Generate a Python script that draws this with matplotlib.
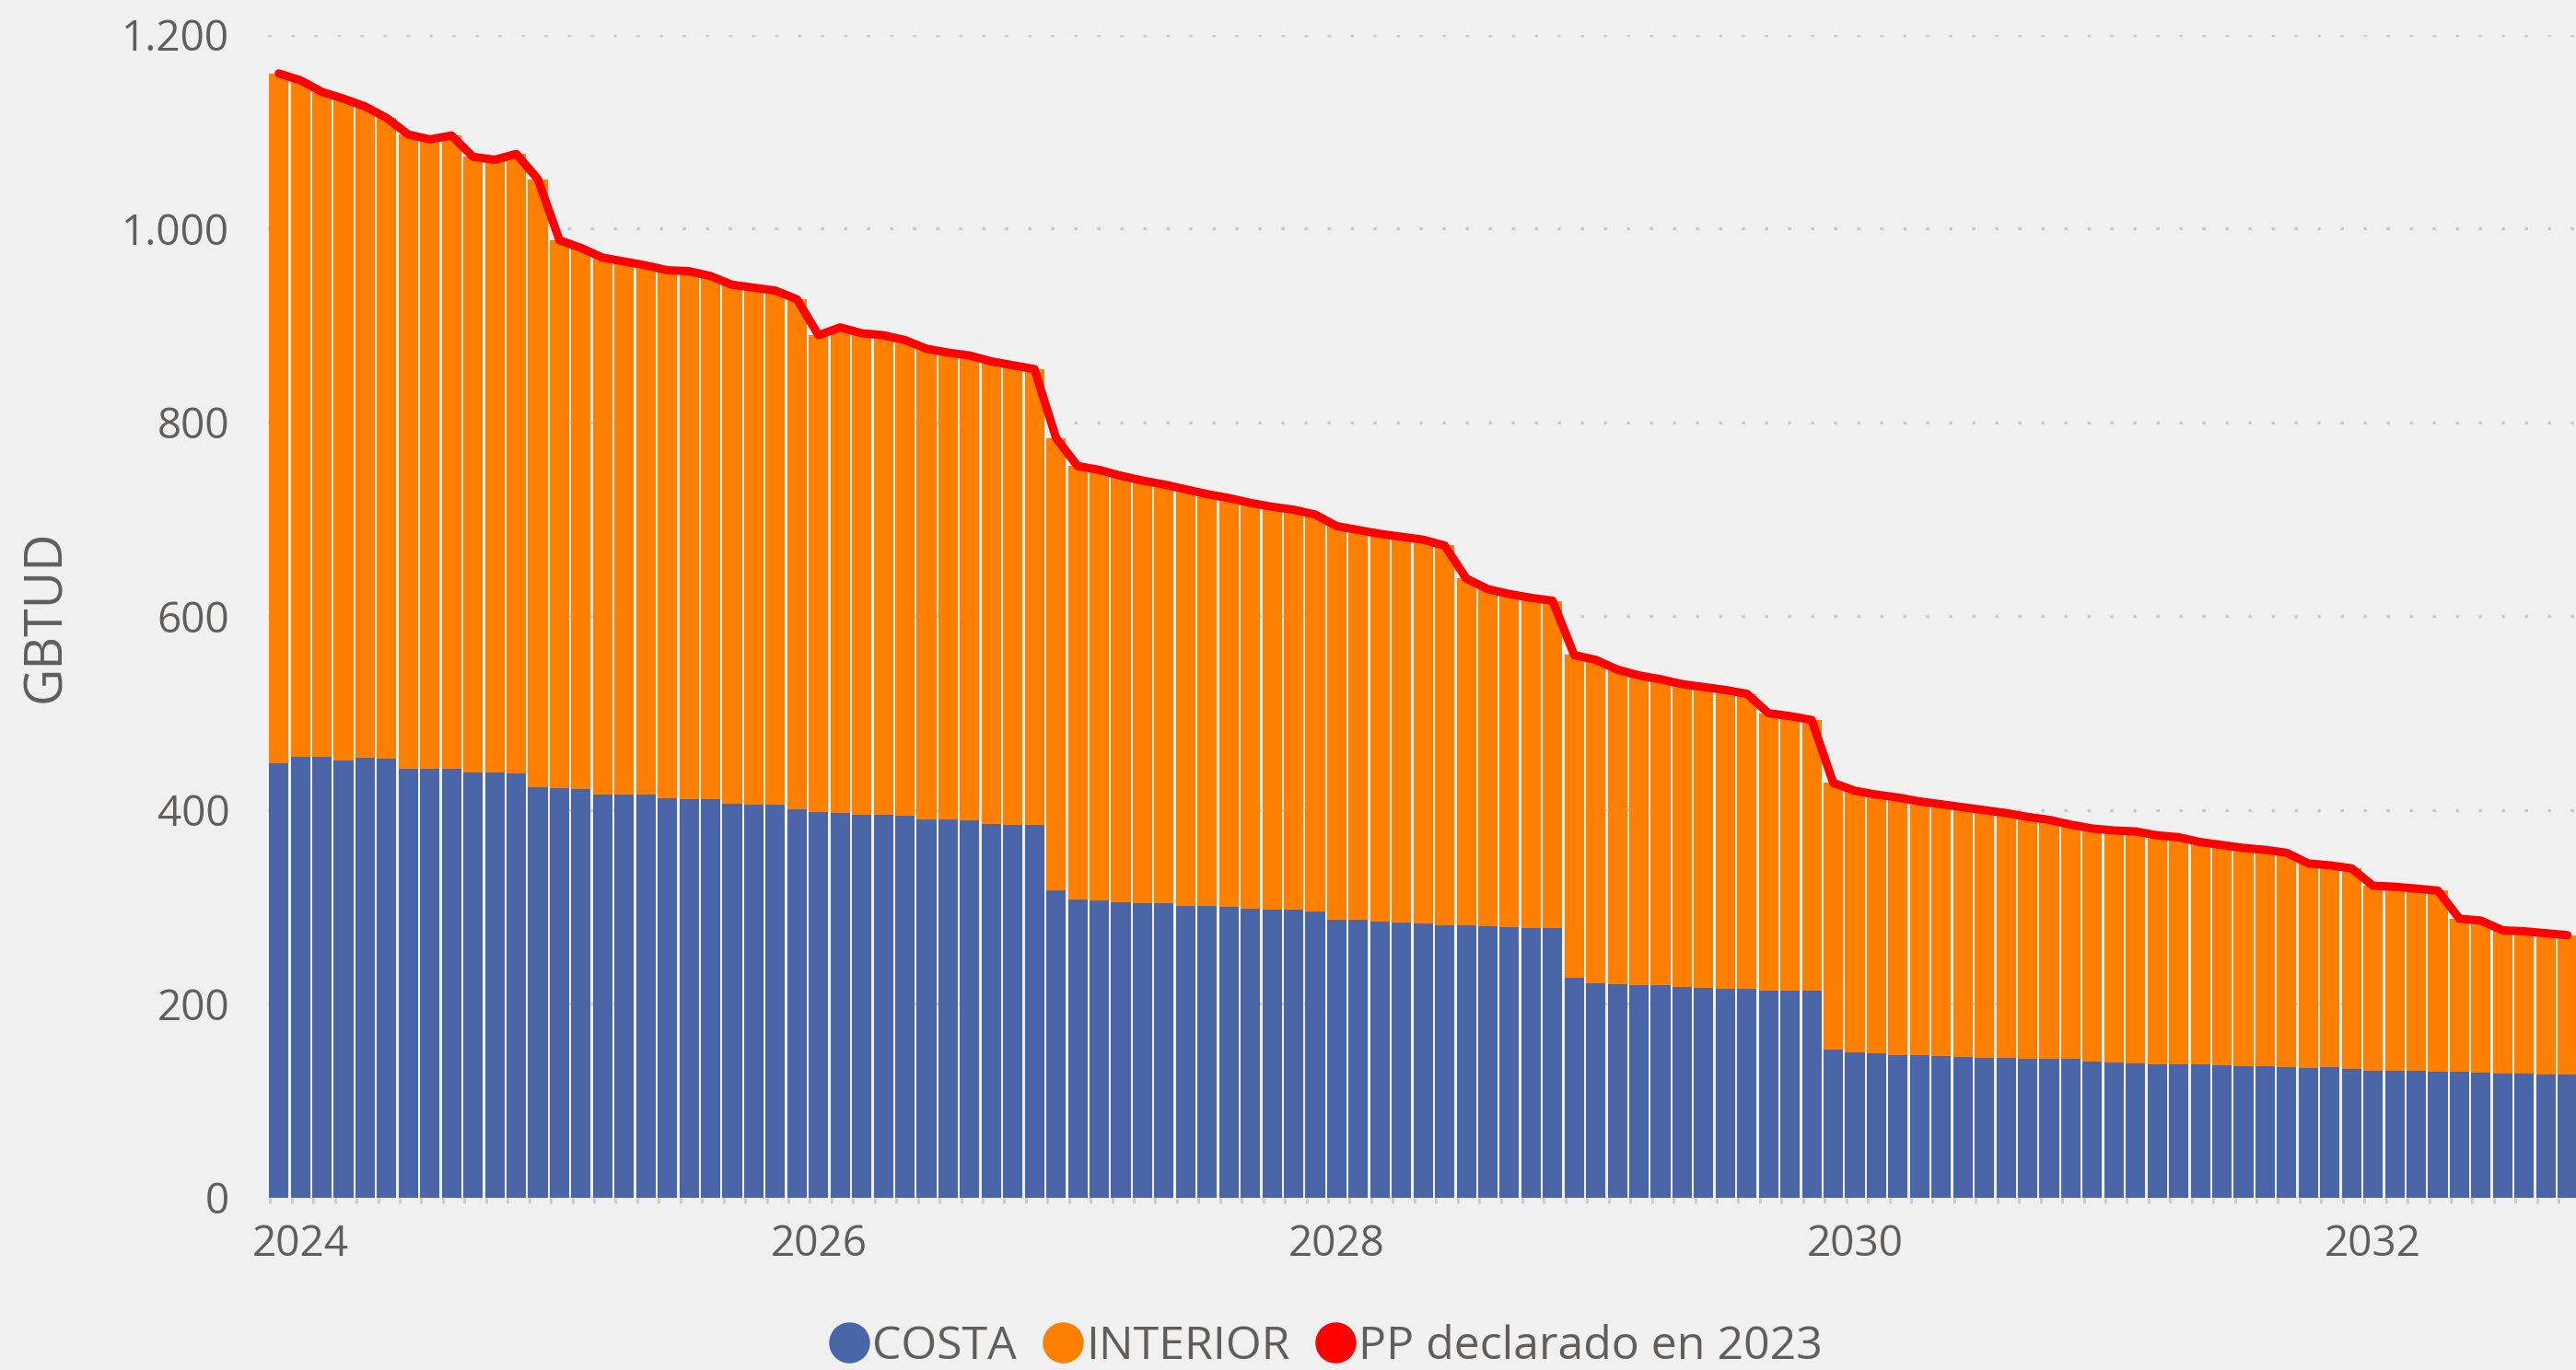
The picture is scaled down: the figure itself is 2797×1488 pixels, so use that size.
import numpy as np
import pandas as pd
import matplotlib.pyplot as plt
from matplotlib.lines import Line2D
from matplotlib.ticker import FuncFormatter

# monthly series, Dec 2023 .. Oct 2032
months = pd.date_range('2023-12-01', periods=107, freq='MS')

costa = [448, 455, 455, 451, 454, 453, 443, 443, 443, 439, 439, 438, 424, 423, 422, 416, 416, 416,
         412, 411, 411, 407, 406, 406, 401, 398, 397, 395, 395, 394, 390, 390, 389, 386, 385, 385,
         317, 308, 307, 305, 304, 304, 301, 301, 300, 298, 297, 297, 295, 287, 287, 285, 284, 283,
         281, 281, 280, 279, 278, 278, 227, 221, 220, 219, 219, 218, 217, 216, 216, 214, 214, 214,
         153, 150, 149, 147, 147, 146, 145, 144, 144, 143, 143, 143, 141, 140, 139, 138, 138, 138,
         137, 136, 136, 135, 134, 135, 133, 131, 131, 131, 130, 130, 129, 128, 128, 127, 127]

interior = [712, 698, 686, 683, 672, 661, 654, 649, 653, 635, 632, 639, 627, 565, 558, 554, 550, 546,
            545, 545, 540, 535, 533, 530, 526, 492, 501, 497, 495, 491, 486, 482, 480, 477, 474, 470,
            467, 447, 444, 440, 436, 432, 430, 425, 422, 419, 416, 413, 410, 406, 402, 400, 398, 396,
            392, 358, 348, 344, 341, 338, 333, 334, 325, 320, 316, 312, 310, 308, 304, 286, 283, 279,
            275, 270, 267, 266, 262, 260, 258, 256, 253, 250, 247, 242, 240, 239, 239, 236, 234, 229,
            227, 225, 223, 221, 211, 208, 207, 191, 190, 188, 187, 158, 157, 148, 147, 146, 144]

pp_2023 = [1160, 1153, 1141, 1134, 1126, 1114, 1097, 1092, 1096, 1074, 1071, 1077, 1051, 988, 980, 970,
           966, 962, 957, 956, 951, 942, 939, 936, 927, 890, 898, 892, 890, 885, 876, 872, 869, 863,
           859, 855, 784, 755, 751, 745, 740, 736, 731, 726, 722, 717, 713, 710, 705, 693, 689, 685,
           682, 679, 673, 639, 628, 623, 619, 616, 560, 555, 545, 539, 535, 530, 527, 524, 520, 500,
           497, 493, 428, 420, 416, 413, 409, 406, 403, 400, 397, 393, 390, 385, 381, 379, 378, 374,
           372, 367, 364, 361, 359, 356, 345, 343, 340, 322, 321, 319, 317, 288, 286, 276, 275, 273, 271]

year_labels = ['2024', '2026', '2028', '2030', '2032']

c_costa = '#4A66A8'
c_int = '#FF7F00'
c_pp = '#FF0000'
txt = '#605E5C'
bg = '#F0F0F0'

plt.rcParams['font.family'] = ['Open Sans', 'DejaVu Sans']

fig = plt.figure(figsize=(27.97, 14.88), dpi=100, facecolor=bg)
ax = fig.add_axes([291 / 2797, 1 - 1301 / 1488, 1 - 291 / 2797, (1301 - 37.7) / 1488])
ax.set_facecolor(bg)

x = np.arange(len(months))
ax.bar(x, costa, width=0.9, color=c_costa, linewidth=0, zorder=2)
ax.bar(x, interior, bottom=costa, width=0.9, color=c_int, linewidth=0, zorder=2)
ax.plot(x, pp_2023, color=c_pp, linewidth=6.5, solid_joinstyle='round',
        solid_capstyle='round', zorder=3)

ax.set_xlim(-0.5, 106.4)
ax.set_ylim(0, 1200)

ax.set_yticks(np.arange(0, 1201, 200))
ax.yaxis.set_major_formatter(FuncFormatter(lambda v, p: f'{int(v):,}'.replace(',', '.')))
ax.grid(axis='y', color='#C8C8C8', linewidth=2.4, linestyle=(0, (1, 6.5)), zorder=0)

jan_pos = [i for i, m in enumerate(months) if m.month == 1 and str(m.year) in year_labels]
ax.set_xticks(jan_pos)
ax.set_xticklabels([str(months[i].year) for i in jan_pos])
ax.set_xticks(x - 0.4, minor=True)

ax.tick_params(axis='y', length=0, pad=30, labelsize=33, labelcolor=txt)
ax.tick_params(axis='x', which='major', length=0, pad=20, labelsize=33, labelcolor=txt)
ax.tick_params(axis='x', which='minor', length=4, width=2, color='#C8C8C8')

for s in ax.spines.values():
    s.set_visible(False)

ax.set_ylabel('GBTUD', fontsize=40, color=txt, labelpad=38)

handles = [Line2D([], [], marker='o', linestyle='', markersize=31, color=c) for c in (c_costa, c_int, c_pp)]
fig.legend(handles, ['COSTA', 'INTERIOR', 'PP declarado en 2023'], loc='center',
           bbox_to_anchor=(1438 / 2797, 1 - 1463 / 1488), ncol=3, frameon=False,
           fontsize=36, labelcolor=txt, handletextpad=0.0, columnspacing=0.5,
           handlelength=1.0, borderaxespad=0)

fig.savefig('out.png', dpi=100, facecolor=bg)
